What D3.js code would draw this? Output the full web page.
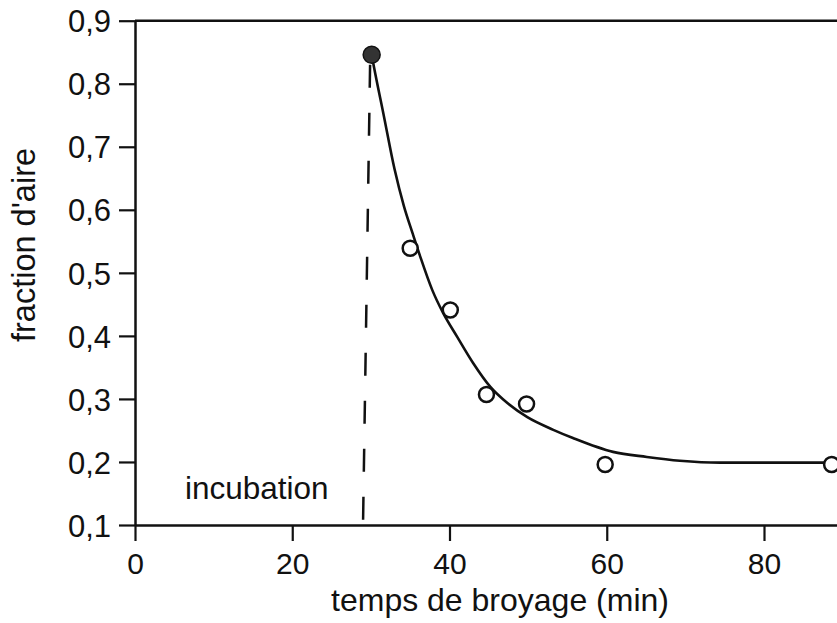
<!DOCTYPE html>
<html>
<head>
<meta charset="utf-8">
<script src="https://cdn.jsdelivr.net/npm/d3@7"></script>
<style>
  body { margin: 0; background: #fff; }
  svg { display: block; font-family: "Liberation Sans", Arial, Helvetica, sans-serif; }
</style>
</head>
<body>
<svg width="837" height="623"></svg>
<script>
// measured points (open circles) and the first point (filled)
var pointsX = [35.0, 40.1, 44.7, 49.8, 59.8, 88.6];
var pointsY = [0.539, 0.441, 0.307, 0.292, 0.196, 0.196];
var startX = 30.1, startY = 0.846;

// fitted curve
var curveX = [30.1, 30.4, 31.6, 33.0, 34.2, 35.3, 36.3, 37.8, 39.2, 41.0, 43.0, 45.2, 47.4, 49.9, 53.2, 55.7, 60.8, 65.1, 69.3, 74.4, 88.0];
var curveY = [0.846, 0.826, 0.752, 0.665, 0.606, 0.563, 0.525, 0.473, 0.436, 0.398, 0.357, 0.319, 0.293, 0.271, 0.251, 0.238, 0.216, 0.208, 0.202, 0.199, 0.199];

// dashed "incubation" marker (top, bottom)
var dashX = [29.9, 29.0];
var dashY = [0.83, 0.1];

var xTicks = [0, 20, 40, 60, 80];
var yTicks = [0.1, 0.2, 0.3, 0.4, 0.5, 0.6, 0.7, 0.8, 0.9];

var width = 837, height = 623;
var svg = d3.select('svg');

var x = d3.scaleLinear().domain([0, 100]).range([135, 135 + 100 * 7.8625]);
var y = d3.scaleLinear().domain([0.1, 0.9]).range([525, 20.7]);

var fr = d3.formatLocale({decimal: ',', thousands: ' ', grouping: [3], currency: ['', '']});
var fmt = fr.format('.1f');

// minor ticks
var xMinor = d3.range(0, 101, 5).filter(function(d){ return d % 20 !== 0; });
var yMinor = [];
for (var i = 0; i < 8; i++) {
	for (var k = 1; k < 6; k++) {
		yMinor.push(0.1 + i * 0.1 + k * 0.1 / 6);
	}
}

// top frame line
svg.append('line')
	.attr('x1', x(0)).attr('x2', width)
	.attr('y1', y(0.9)).attr('y2', y(0.9))
	.attr('stroke', '#111').attr('stroke-width', 2.5);

var gx = svg.append('g').attr('transform', 'translate(0,' + y(0.1) + ')');
gx.call(d3.axisBottom(x).tickValues(xMinor).tickSize(8).tickFormat(''));
gx.call(d3.axisBottom(x).tickValues(xTicks).tickSize(16).tickSizeOuter(0).tickPadding(12).tickFormat(d3.format('d')));

var gy = svg.append('g').attr('transform', 'translate(' + x(0) + ',0)');
gy.call(d3.axisLeft(y).tickValues(yMinor).tickSize(8).tickFormat(''));
gy.call(d3.axisLeft(y).tickValues(yTicks).tickSize(16).tickSizeOuter(0).tickPadding(8).tickFormat(fmt));

svg.selectAll('.domain').attr('stroke', '#111').attr('stroke-width', 2.5);
svg.selectAll('.tick line').attr('stroke', '#111').attr('stroke-width', 2.2);
svg.selectAll('.tick text').attr('fill', '#111').attr('font-size', 31);
gx.selectAll('.tick text').attr('font-size', 30);
gy.selectAll('.tick text').attr('dy', '0.36em');

// axis titles
svg.append('text')
	.attr('x', 500).attr('y', 611)
	.attr('text-anchor', 'middle')
	.attr('font-size', 32).attr('fill', '#111')
	.text('temps de broyage (min)');

svg.append('text')
	.attr('transform', 'translate(35,245) rotate(-90)')
	.attr('text-anchor', 'middle')
	.attr('font-size', 32.5).attr('fill', '#111')
	.text("fraction d'aire");

// dashed line
svg.append('line')
	.attr('x1', x(dashX[0])).attr('y1', y(dashY[0]))
	.attr('x2', x(dashX[1])).attr('y2', y(dashY[1]))
	.attr('stroke', '#111').attr('stroke-width', 2.5)
	.attr('stroke-dasharray', '23,25');

svg.append('text')
	.attr('x', 185).attr('y', 499)
	.attr('font-size', 31.5).attr('fill', '#111')
	.text('incubation');

// curve
var curveData = curveX.map(function(d, i){ return [d, curveY[i]]; });
svg.append('path')
	.datum(curveData)
	.attr('fill', 'none')
	.attr('stroke', '#111')
	.attr('stroke-width', 2.6)
	.attr('d', d3.line().x(function(d){ return x(d[0]); }).y(function(d){ return y(d[1]); }).curve(d3.curveMonotoneX));

// points
var pts = pointsX.map(function(d, i){ return [d, pointsY[i]]; });
svg.selectAll('circle.open').data(pts).enter()
	.append('circle')
	.attr('class', 'open')
	.attr('cx', function(d){ return x(d[0]); })
	.attr('cy', function(d){ return y(d[1]); })
	.attr('r', 7.5)
	.attr('fill', '#fff')
	.attr('stroke', '#111')
	.attr('stroke-width', 2.5);

svg.append('circle')
	.attr('cx', x(startX)).attr('cy', y(startY))
	.attr('r', 8.5)
	.attr('fill', '#333')
	.attr('stroke', '#111')
	.attr('stroke-width', 1.5);
</script>
</body>
</html>
